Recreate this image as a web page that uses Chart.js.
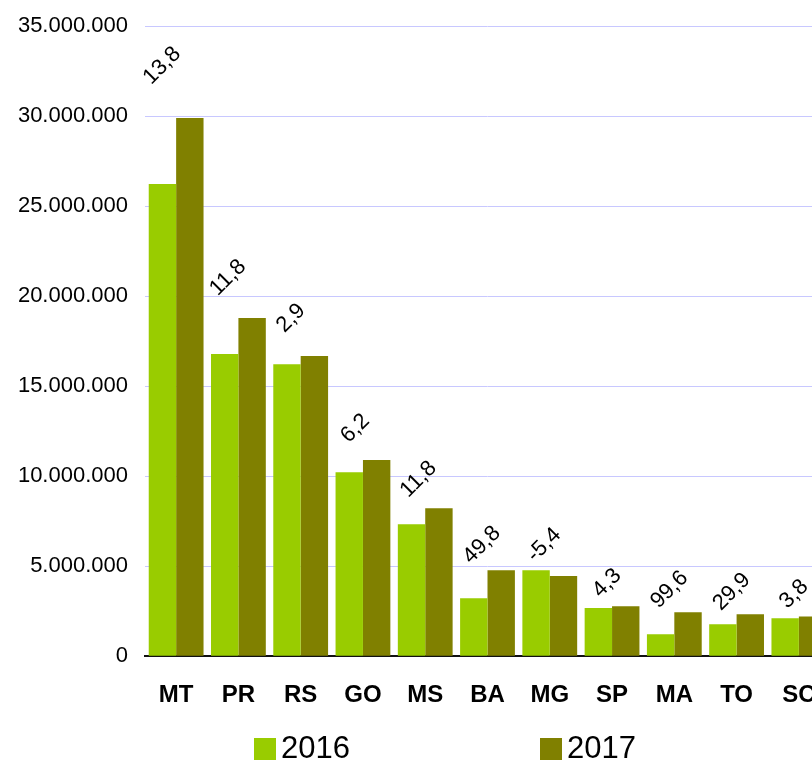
<!DOCTYPE html>
<html>
<head>
<meta charset="utf-8">
<script src="https://cdn.jsdelivr.net/npm/chart.js@4.4.1/dist/chart.umd.min.js"></script>
<style>
  html, body { margin: 0; padding: 0; background: #fff; overflow: hidden; }
  #wrap { position: relative; width: 840px; height: 762px; }
</style>
</head>
<body>
<div id="wrap"><canvas id="chart"></canvas></div>
<script>
// dados
const estados = ['MT', 'PR', 'RS', 'GO', 'MS', 'BA', 'MG', 'SP', 'MA', 'TO', 'SC'];
const valores2016 = [26220000, 16780000, 16220000, 10220000, 7330000, 3220000, 4780000, 2670000, 1220000, 1780000, 2110000];
const valores2017 = [29890000, 18780000, 16670000, 10890000, 8220000, 4780000, 4450000, 2780000, 2440000, 2330000, 2200000];
const variacao = ['13,8', '11,8', '2,9', '6,2', '11,8', '49,8', '-5,4', '4,3', '99,6', '29,9', '3,8'];
const yTicks = [0, 5000000, 10000000, 15000000, 20000000, 25000000, 30000000, 35000000];
const legendas = ['2016', '2017'];

const corVerde = '#99cc00';
const corOliva = '#808000';
const fonte = '"Liberation Sans", Arial, sans-serif';

// formata 35000000 -> 35.000.000
function formatar(v) {
  return String(v).replace(/\B(?=(\d{3})+(?!\d))/g, '.');
}

// rotulos de variacao (%) girados acima de cada grupo
const rotulosPlugin = {
  id: 'rotulos',
  afterDatasetsDraw(chart) {
    const ctx = chart.ctx;
    const y = chart.scales.y;
    const m0 = chart.getDatasetMeta(0);
    const m1 = chart.getDatasetMeta(1);
    ctx.save();
    ctx.font = '22px ' + fonte;
    ctx.fillStyle = '#000';
    ctx.textAlign = 'center';
    ctx.textBaseline = 'middle';
    variacao.forEach((txt, i) => {
      const maior = Math.max(valores2016[i], valores2017[i]);
      const cx = (m0.data[i].x + m1.data[i].x) / 2 - 4 - 10 * maior / 30000000;
      const cy = y.getPixelForValue(maior * 1.06) - 20;
      ctx.save();
      ctx.translate(cx, cy);
      ctx.rotate(-Math.PI / 4);
      ctx.fillText(txt, 0, 0);
      ctx.restore();
    });
    ctx.restore();
  }
};

// legenda desenhada embaixo
const legendaPlugin = {
  id: 'legendaBaixo',
  afterDraw(chart) {
    const ctx = chart.ctx;
    const cores = [corVerde, corOliva];
    const xs = [254, 540];
    ctx.save();
    ctx.font = '31px ' + fonte;
    ctx.textBaseline = 'middle';
    ctx.textAlign = 'left';
    legendas.forEach((txt, i) => {
      ctx.fillStyle = cores[i];
      ctx.fillRect(xs[i], 738, 22, 22);
      ctx.fillStyle = '#000';
      ctx.fillText(txt, xs[i] + 27, 749);
    });
    ctx.restore();
  }
};

new Chart(document.getElementById('chart'), {
  type: 'bar',
  data: {
    labels: estados,
    datasets: [
      { label: legendas[0], data: valores2016, backgroundColor: corVerde },
      { label: legendas[1], data: valores2017, backgroundColor: corOliva }
    ]
  },
  options: {
    responsive: true,
    maintainAspectRatio: false,
    animation: false,
    categoryPercentage: 0.88,
    barPercentage: 1,
    layout: { padding: { top: 26, right: 10, bottom: 35, left: 0 } },
    plugins: {
      legend: { display: false },
      tooltip: { enabled: false }
    },
    scales: {
      x: {
        grid: { display: false },
        border: { color: '#111', width: 2 },
        ticks: {
          color: '#000',
          padding: 17,
          font: { family: fonte, size: 24, weight: 'bold' }
        }
      },
      y: {
        min: 0,
        max: 35000000,
        afterFit(scale) {
          scale.width = 145;
          scale.paddingTop = 0;
          scale.paddingBottom = 0;
        },
        afterBuildTicks(scale) { scale.ticks = yTicks.map(v => ({ value: v })); },
        grid: { color: '#c8c8ff', drawTicks: false },
        border: { display: false },
        ticks: {
          color: '#000',
          padding: 17,
          font: { family: fonte, size: 22 },
          callback: v => formatar(v)
        }
      }
    }
  },
  plugins: [rotulosPlugin, legendaPlugin]
});
</script>
</body>
</html>
